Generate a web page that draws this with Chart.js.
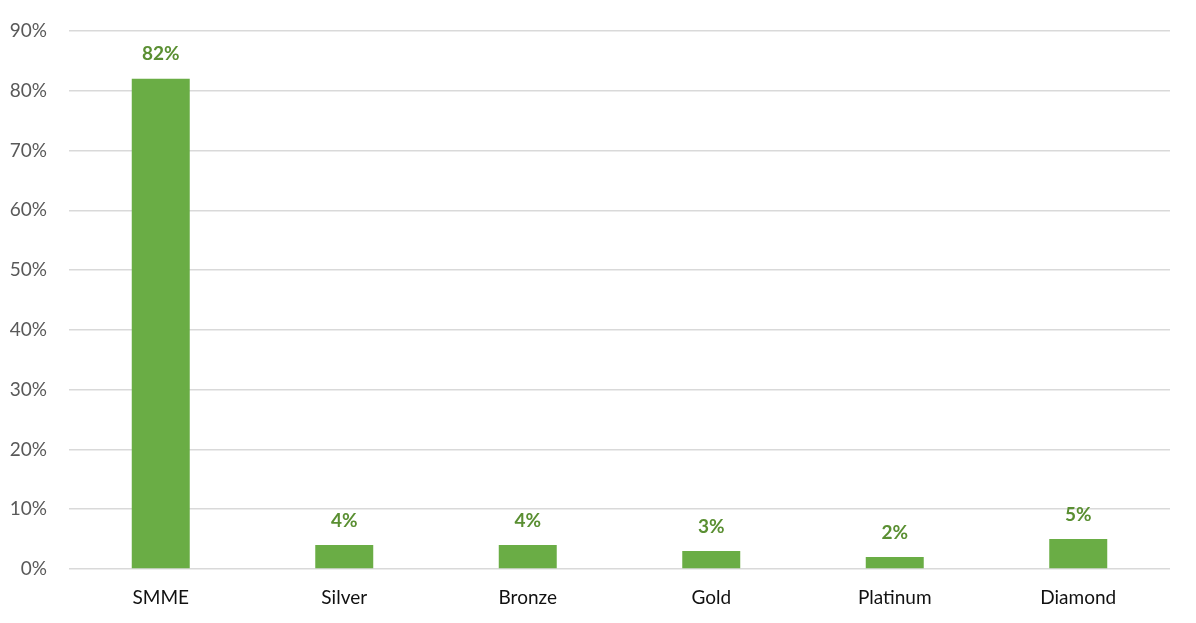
<!DOCTYPE html>
<html>
<head>
<meta charset="utf-8">
<script src="https://cdn.jsdelivr.net/npm/chart.js@4"></script>
<style>
html,body{margin:0;padding:0;background:#fff;}
#wrap{width:1196px;height:623px;position:relative;}
</style>
</head>
<body>
<div id="wrap"><canvas id="c" width="1196" height="623"></canvas></div>
<script>
const categories = ["SMME", "Silver", "Bronze", "Gold", "Platinum", "Diamond"];
const shareValues = [82, 4, 4, 3, 2, 5];
const tickValues = [0, 10, 20, 30, 40, 50, 60, 70, 80, 90];

const FONT = "Lato, 'Open Sans', 'Liberation Sans', sans-serif";

const labelPlugin = {
  id: 'valueLabels',
  afterDatasetsDraw(chart) {
    const ctx = chart.ctx;
    const meta = chart.getDatasetMeta(0);
    ctx.save();
    ctx.fillStyle = '#5a8f32';
    ctx.font = "bold 19px " + FONT;
    ctx.textAlign = 'center';
    ctx.textBaseline = 'bottom';
    meta.data.forEach((bar, i) => {
      ctx.fillText(shareValues[i] + '%', bar.x, bar.y - 15);
    });
    ctx.restore();
  }
};

new Chart(document.getElementById('c'), {
  type: 'bar',
  data: {
    labels: categories,
    datasets: [{
      data: shareValues,
      backgroundColor: '#6aad45',
      barPercentage: 0.632,
      categoryPercentage: 0.5
    }]
  },
  options: {
    responsive: false,
    animation: false,
    layout: { padding: { top: 31, right: 26, left: 0, bottom: 0 } },
    plugins: { legend: { display: false }, tooltip: { enabled: false } },
    scales: {
      x: {
        grid: { display: false, drawTicks: false },
        border: { display: false },
        ticks: { color: '#111', font: { family: FONT, size: 19 }, padding: 17 },
        afterFit(scale) { scale.height = 54; }
      },
      y: {
        min: 0, max: 90,
        afterBuildTicks(scale) { scale.ticks = tickValues.map(v => ({ value: v })); },
        grid: { color: '#d9d9d9', lineWidth: 1.5, drawTicks: false },
        border: { display: false },
        ticks: {
          color: '#595959',
          font: { family: FONT, size: 19 },
          padding: 22,
          callback: v => v + '%'
        },
        afterFit(scale) { scale.width = 69; scale.paddingTop = 0; scale.paddingBottom = 0; }
      }
    }
  },
  plugins: [labelPlugin]
});
</script>
</body>
</html>
